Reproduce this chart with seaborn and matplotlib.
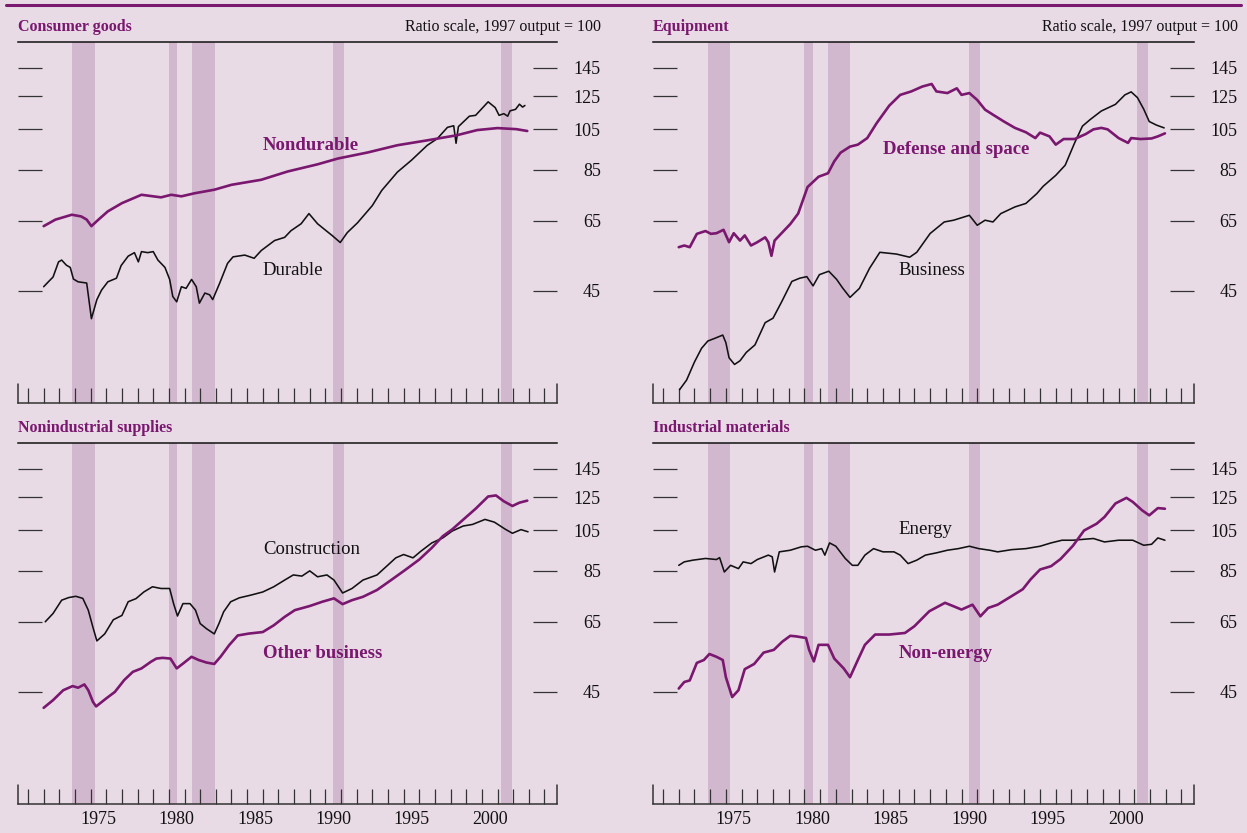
import matplotlib
matplotlib.use("Agg")
import matplotlib.pyplot as plt
from matplotlib.lines import Line2D
from matplotlib.ticker import NullLocator
import seaborn as sns

sns.set_theme(style="white")
plt.rcParams['font.family'] = ['Liberation Serif', 'DejaVu Serif']

BG = '#E8DBE6'
BAND = '#D2B8CF'
PURPLE = '#7A176F'
BLACK = '#111111'
TICKC = '#333333'

# ---------------- data ----------------
recessions = [(1973.83, 1975.25), (1980.0, 1980.55), (1981.5, 1982.92),
              (1990.5, 1991.2), (2001.2, 2001.9)]
yticks = [45, 65, 85, 105, 125, 145]
year_labels = [1975, 1980, 1985, 1990, 1995, 2000]
year_ticks = list(range(1971, 2005))

durable_x = [1972.0, 1972.3, 1972.6, 1972.95, 1973.15, 1973.45, 1973.7, 1973.9, 1974.2, 1974.75,
             1975.05, 1975.4, 1975.7, 1976.1, 1976.65, 1976.95, 1977.4, 1977.8, 1978.05, 1978.25,
             1978.65, 1979.0, 1979.3, 1979.75, 1980.05, 1980.25, 1980.5, 1980.8, 1981.1, 1981.45,
             1981.75, 1981.95, 1982.3, 1982.6, 1982.8, 1983.25, 1983.75, 1984.1, 1984.85, 1985.45,
             1985.9, 1986.75, 1987.4, 1987.8, 1988.45, 1988.95, 1989.5, 1990.05, 1990.45, 1990.95,
             1991.4, 1992.05, 1993.0, 1993.6, 1994.6, 1995.5, 1996.5, 1997.15, 1997.8, 1998.2,
             1998.35, 1998.5, 1999.2, 1999.6, 2000.06, 2000.4, 2000.85, 2001.1, 2001.4, 2001.65,
             2001.8, 2002.15, 2002.4, 2002.6, 2002.75]
durable_y = [46.0, 47.2, 48.4, 52.4, 52.9, 51.5, 50.9, 47.9, 47.2, 46.9,
             38.9, 43.0, 45.2, 47.2, 48.1, 51.4, 54.0, 55.0, 52.4, 55.3,
             55.0, 55.3, 52.9, 50.9, 47.8, 43.7, 42.5, 46.0, 45.6, 47.8,
             46.0, 42.2, 44.5, 44.1, 43.0, 46.9, 52.0, 53.8, 54.3, 53.4,
             55.6, 58.6, 59.6, 61.7, 64.0, 67.5, 64.0, 61.7, 60.1, 58.0,
             61.1, 64.3, 70.4, 76.2, 83.9, 89.3, 96.5, 100.0, 106.1, 107.0,
             97.6, 106.5, 112.5, 113.0, 117.7, 121.3, 117.7, 113.0, 114.0, 112.5,
             115.7, 116.6, 119.8, 118.0, 119.0]

nondurable_x = [1972.0, 1972.75, 1973.8, 1974.4, 1974.75, 1975.05, 1975.5, 1976.1, 1977.0, 1978.25,
                1979.5, 1980.15, 1980.8, 1981.65, 1982.9, 1984.0, 1985.9, 1987.6, 1989.5, 1990.8,
                1992.7, 1994.6, 1996.5, 1998.4, 1999.7, 2001.0, 2002.2, 2002.9]
nondurable_y = [63.2, 65.4, 67.1, 66.5, 65.4, 63.2, 65.4, 68.3, 71.3, 74.5,
                73.5, 74.5, 73.9, 75.1, 76.5, 78.5, 80.6, 84.2, 87.4, 90.1,
                93.0, 96.6, 99.1, 101.8, 104.6, 105.7, 105.1, 104.1]

business_x = [1972.05, 1972.5, 1973.0, 1973.45, 1973.85, 1974.3, 1974.8, 1975.0, 1975.2, 1975.55,
              1975.9, 1976.3, 1976.85, 1977.5, 1978.0, 1978.55, 1979.2, 1979.7, 1980.15, 1980.55,
              1980.95, 1981.55, 1982.05, 1982.45, 1982.9, 1983.5, 1984.15, 1984.8, 1985.85, 1986.7,
              1987.15, 1988.0, 1988.9, 1989.5, 1990.5, 1991.0, 1991.5, 1992.0, 1992.5, 1993.4,
              1994.1, 1994.8, 1995.2, 1996.0, 1996.6, 1997.2, 1997.7, 1998.2, 1998.9, 1999.8,
              2000.4, 2000.8, 2001.2, 2001.6, 2001.95, 2002.4, 2002.9]
business_y = [26.8, 28.2, 31.0, 33.3, 34.6, 35.1, 35.7, 34.3, 31.7, 30.6,
              31.2, 32.6, 33.9, 38.1, 39.0, 42.5, 47.3, 48.1, 48.5, 46.2,
              49.0, 49.9, 47.8, 45.6, 43.5, 45.6, 50.7, 55.1, 54.6, 53.7,
              55.1, 60.8, 64.6, 65.2, 66.9, 63.5, 65.2, 64.6, 67.5, 69.9,
              71.2, 75.0, 77.9, 82.5, 87.0, 97.8, 106.8, 110.6, 115.6, 119.7,
              125.8, 127.8, 124.0, 116.7, 109.4, 107.4, 105.8]

defense_x = [1972.0, 1972.35, 1972.7, 1973.15, 1973.7, 1974.05, 1974.4, 1974.85, 1975.2, 1975.5,
             1975.9, 1976.2, 1976.6, 1977.0, 1977.5, 1977.7, 1977.9, 1978.1, 1978.6, 1979.1,
             1979.6, 1980.2, 1980.9, 1981.5, 1981.9, 1982.3, 1982.9, 1983.4, 1984.0, 1984.6,
             1985.4, 1986.1, 1986.8, 1987.5, 1988.1, 1988.4, 1989.1, 1989.7, 1990.0, 1990.5,
             1991.0, 1991.5, 1992.0, 1992.7, 1993.4, 1994.1, 1994.7, 1995.0, 1995.6, 1996.0,
             1996.5, 1997.2, 1997.9, 1998.4, 1998.9, 1999.3, 2000.0, 2000.6, 2000.8, 2001.4,
             2002.1, 2002.5, 2002.95]
defense_y = [56.6, 57.1, 56.6, 60.7, 61.6, 60.7, 60.9, 62.0, 58.1, 60.9,
             58.6, 60.2, 57.1, 58.1, 59.6, 58.1, 54.1, 58.6, 61.2, 63.9,
             67.5, 77.6, 81.9, 83.4, 88.8, 92.9, 95.9, 96.9, 100.3, 108.5,
             118.9, 125.8, 128.1, 131.4, 133.2, 128.1, 127.0, 130.2, 125.8, 127.0,
             122.5, 116.4, 113.4, 109.4, 105.8, 103.4, 100.3, 103.2, 101.2, 96.9,
             99.8, 99.8, 102.4, 105.0, 105.8, 105.0, 100.3, 97.8, 100.3, 99.8,
             100.1, 101.2, 102.8]

construction_x = [1972.1, 1972.6, 1973.15, 1973.6, 1974.05, 1974.5, 1974.85, 1975.15, 1975.4, 1975.9,
                  1976.45, 1977.0, 1977.4, 1977.9, 1978.4, 1978.95, 1979.5, 1980.05, 1980.3, 1980.55,
                  1980.9, 1981.35, 1981.7, 1982.0, 1982.4, 1982.9, 1983.2, 1983.5, 1983.95, 1984.5,
                  1985.2, 1986.0, 1986.7, 1987.4, 1987.95, 1988.5, 1989.0, 1989.5, 1990.1, 1990.55,
                  1991.1, 1991.7, 1992.4, 1993.3, 1993.9, 1994.5, 1995.0, 1995.6, 1996.1, 1996.8,
                  1997.5, 1998.1, 1998.8, 1999.4, 2000.2, 2000.8, 2001.5, 2001.95, 2002.5, 2002.95]
construction_y = [65.0, 67.9, 72.8, 73.8, 74.3, 73.5, 69.1, 63.1, 58.8, 61.0,
                  65.7, 67.2, 72.2, 73.4, 76.0, 78.1, 77.4, 77.4, 71.5, 67.0,
                  71.5, 71.5, 69.1, 64.4, 62.7, 61.0, 64.4, 68.5, 72.2, 73.7,
                  74.7, 76.0, 78.1, 80.9, 83.1, 82.6, 84.9, 82.3, 83.1, 80.9,
                  75.6, 77.4, 80.9, 83.1, 86.9, 90.9, 92.5, 90.9, 94.1, 98.3,
                  100.9, 104.6, 107.4, 108.3, 111.2, 109.6, 105.6, 103.4, 105.4, 104.2]

otherbus_x = [1972.0, 1972.6, 1973.25, 1973.85, 1974.2, 1974.6, 1974.85, 1975.15, 1975.35, 1976.0,
              1976.55, 1977.15, 1977.7, 1978.25, 1978.85, 1979.2, 1979.6, 1980.1, 1980.5, 1980.9,
              1981.45, 1981.9, 1982.4, 1982.9, 1983.3, 1983.85, 1984.4, 1985.1, 1986.0, 1986.7,
              1987.4, 1988.05, 1989.0, 1989.8, 1990.55, 1991.1, 1991.7, 1992.4, 1993.3, 1994.2,
              1995.1, 1996.0, 1996.8, 1997.5, 1998.1, 1998.9, 1999.6, 2000.4, 2000.9, 2001.4,
              2001.95, 2002.4, 2002.9]
otherbus_y = [41.4, 43.1, 45.4, 46.4, 46.0, 46.8, 45.4, 42.7, 41.7, 43.5,
              45.0, 47.9, 50.0, 50.9, 52.7, 53.6, 53.8, 53.6, 50.9, 52.2,
              54.1, 53.2, 52.5, 52.1, 54.1, 57.5, 60.5, 61.1, 61.6, 63.8,
              66.7, 69.1, 70.6, 72.2, 73.5, 71.3, 72.8, 74.1, 76.8, 80.9,
              85.3, 90.1, 95.8, 101.8, 105.5, 111.8, 117.6, 125.4, 126.1, 122.3,
              119.3, 121.4, 122.7]

energy_x = [1972.0, 1972.35, 1972.9, 1973.7, 1974.4, 1974.6, 1974.9, 1975.3, 1975.8, 1976.1,
            1976.6, 1977.0, 1977.7, 1977.95, 1978.1, 1978.4, 1979.1, 1979.8, 1980.2, 1980.7,
            1981.1, 1981.3, 1981.6, 1982.0, 1982.6, 1983.05, 1983.4, 1983.85, 1984.4, 1985.0,
            1985.7, 1986.1, 1986.6, 1987.15, 1987.7, 1988.4, 1989.1, 1989.8, 1990.5, 1991.1,
            1991.8, 1992.3, 1993.2, 1994.1, 1995.0, 1995.7, 1996.4, 1997.1, 1997.8, 1998.4,
            1999.1, 2000.0, 2000.9, 2001.6, 2002.1, 2002.5, 2002.95]
energy_y = [87.4, 89.0, 89.8, 90.6, 90.1, 91.0, 84.4, 87.4, 85.9, 89.0,
            88.2, 90.1, 92.2, 91.4, 84.4, 93.8, 94.6, 96.3, 96.6, 94.6,
            95.4, 92.2, 98.3, 96.6, 90.6, 87.4, 87.4, 92.2, 95.4, 93.8,
            93.8, 92.2, 88.2, 89.8, 92.2, 93.3, 94.6, 95.4, 96.6, 95.4,
            94.6, 93.8, 94.9, 95.4, 96.6, 98.3, 99.7, 99.7, 100.2, 100.6,
            98.8, 99.7, 99.7, 97.1, 97.6, 100.9, 99.7]

nonenergy_x = [1972.0, 1972.35, 1972.7, 1973.15, 1973.6, 1973.95, 1974.4, 1974.8, 1975.0, 1975.4,
               1975.8, 1976.2, 1976.8, 1977.4, 1978.05, 1978.6, 1979.1, 1979.5, 1980.1, 1980.3,
               1980.6, 1980.9, 1981.5, 1981.9, 1982.5, 1982.9, 1983.4, 1983.85, 1984.5, 1985.4,
               1986.4, 1987.0, 1987.95, 1988.95, 1989.5, 1990.0, 1990.7, 1991.2, 1991.7, 1992.3,
               1993.2, 1993.9, 1994.4, 1995.0, 1995.7, 1996.3, 1997.1, 1997.8, 1998.6, 1999.1,
               1999.8, 2000.5, 2000.9, 2001.5, 2001.95, 2002.5, 2002.95]
nonenergy_y = [45.8, 47.4, 47.8, 52.4, 53.2, 54.9, 54.1, 53.2, 48.6, 43.8,
               45.4, 50.7, 52.1, 55.3, 56.1, 58.6, 60.4, 60.2, 59.7, 56.1,
               52.8, 57.6, 57.6, 53.6, 50.9, 48.6, 53.2, 57.6, 60.8, 60.8,
               61.3, 63.5, 68.7, 71.8, 70.5, 69.3, 71.1, 66.9, 69.9, 71.1,
               74.4, 77.1, 81.2, 85.5, 87.0, 90.3, 96.9, 104.9, 108.7, 112.6,
               120.9, 124.5, 121.9, 116.6, 113.6, 118.0, 117.6]

# ---------------- layout ----------------
W, H = 1247, 833
fig = plt.figure(figsize=(W / 100, H / 100), dpi=100, facecolor=BG)

panels = [
    dict(title="Consumer goods", rect=(18, 42, 539, 361), top=True,
         series=[(durable_x, durable_y, BLACK, 1.15), (nondurable_x, nondurable_y, PURPLE, 1.9)],
         labels=[("Nondurable", 1986.0, 96.6, PURPLE, 'bold'), ("Durable", 1986.0, 50.2, BLACK, 'normal')]),
    dict(title="Equipment", rect=(653, 42, 541, 361), top=True,
         series=[(business_x, business_y, BLACK, 1.15), (defense_x, defense_y, PURPLE, 1.9)],
         labels=[("Defense and space", 1985.0, 94.6, PURPLE, 'bold'), ("Business", 1986.0, 50.0, BLACK, 'normal')]),
    dict(title="Nonindustrial supplies", rect=(18, 443, 539, 361), top=False,
         series=[(construction_x, construction_y, BLACK, 1.15), (otherbus_x, otherbus_y, PURPLE, 1.9)],
         labels=[("Construction", 1986.0, 95.0, BLACK, 'normal'), ("Other business", 1986.0, 55.0, PURPLE, 'bold')]),
    dict(title="Industrial materials", rect=(653, 443, 541, 361), top=False,
         series=[(energy_x, energy_y, BLACK, 1.15), (nonenergy_x, nonenergy_y, PURPLE, 1.9)],
         labels=[("Energy", 1986.0, 105.3, BLACK, 'normal'), ("Non-energy", 1986.0, 55.0, PURPLE, 'bold')]),
]

XMIN, XMAX = 1970.36, 2004.8
axes = []
for p in panels:
    x0, y0, w, h = p['rect']
    ax = fig.add_axes([x0 / W, 1 - (y0 + h) / H, w / W, h / H])
    axes.append(ax)
    ax.set_facecolor(BG)
    for a, b in recessions:
        ax.axvspan(a, b, color=BAND, lw=0, zorder=0)
    for xs, ys, col, lw in p['series']:
        sns.lineplot(x=xs, y=ys, ax=ax, color=col, linewidth=lw, sort=False, estimator=None, zorder=3)
    ax.set_yscale('log')
    ax.set_ylim(25, 166)
    ax.set_xlim(XMIN, XMAX)
    ax.set_yticks(yticks, labels=[str(v) for v in yticks])
    ax.yaxis.set_minor_locator(NullLocator())
    ax.tick_params(axis='y', which='major', direction='in', length=17, width=0.9, color=TICKC,
                   left=True, right=True, labelleft=False, labelright=True, pad=31.5,
                   labelsize=13, labelcolor=BLACK)
    ax.set_xticks(year_ticks, labels=[''] * len(year_ticks))
    if p['top']:
        ax.set_xticks([y + 0.5 for y in year_labels], labels=[''] * len(year_labels), minor=True)
    else:
        ax.set_xticks([y + 0.5 for y in year_labels], labels=[str(y) for y in year_labels], minor=True)
    ax.tick_params(axis='x', which='major', direction='in', length=11, width=0.9, color=TICKC,
                   bottom=True, top=False)
    ax.tick_params(axis='x', which='minor', direction='in', length=0, pad=5, labelsize=13,
                   labelcolor=BLACK, bottom=True, top=False, labelbottom=True)
    for s in ('left', 'right'):
        ax.spines[s].set_visible(False)
    ax.spines['top'].set_color(BLACK)
    ax.spines['top'].set_linewidth(1.1)
    ax.spines['bottom'].set_color(TICKC)
    ax.spines['bottom'].set_linewidth(1.1)
    ax.axvline(XMIN, ymin=0, ymax=0.052, color=TICKC, lw=1.1, clip_on=False)
    ax.axvline(XMAX, ymin=0, ymax=0.052, color=TICKC, lw=1.1, clip_on=False)
    ax.grid(False)
    for txt, lx, ly, col, wt in p['labels']:
        ax.text(lx, ly, txt, ha='left', va='center', fontsize=13.5, color=col, fontweight=wt, zorder=4)
    ax.text(0, 1.03, p['title'], transform=ax.transAxes, ha='left', va='baseline',
            fontsize=11.5, fontweight='bold', color=PURPLE)
    if p['top']:
        ax.text(1 + 44 / w, 1.03, "Ratio scale, 1997 output = 100", transform=ax.transAxes,
                ha='right', va='baseline', fontsize=11.5, color=BLACK)

for ax in axes:
    for t in ax.yaxis.get_major_ticks():
        t.label2.set_horizontalalignment('right')

fig.add_artist(Line2D([0.005, 0.995], [1 - 5 / H, 1 - 5 / H], transform=fig.transFigure,
                      color=PURPLE, lw=2.2))

fig.savefig("out.png", dpi=100, facecolor=BG)
